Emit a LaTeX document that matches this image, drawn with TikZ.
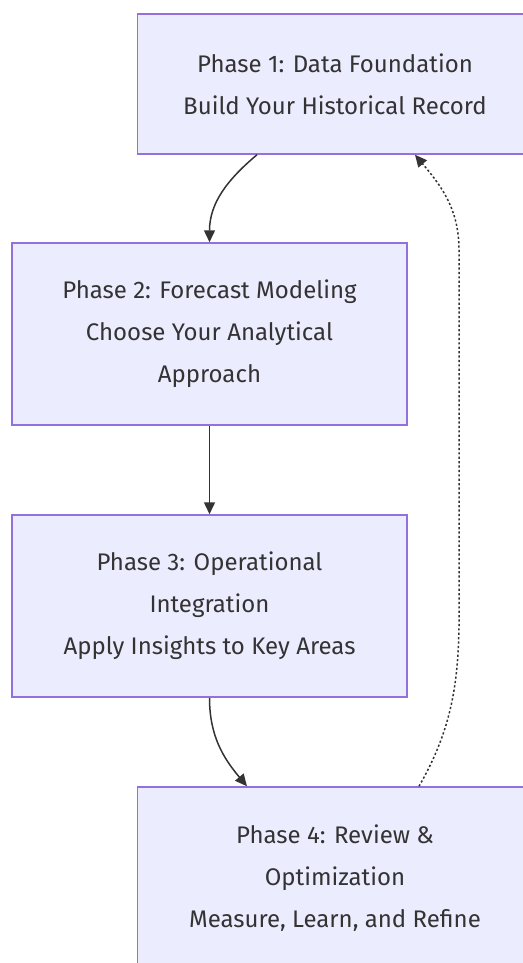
\documentclass[tikz,border=0pt]{standalone}
\usepackage{fontspec}
\setmainfont{Fira Sans}
\usetikzlibrary{arrows.meta,positioning}

\definecolor{boxfill}{HTML}{ECECFF}
\definecolor{boxline}{HTML}{9370DB}
\definecolor{ink}{HTML}{333333}

\begin{document}
\begin{tikzpicture}[
    x=1pt, y=1pt,
    phase/.style = {draw=boxline, line width=1.5pt, fill=boxfill,
                    minimum width=395pt, align=center, text=ink,
                    font=\fontsize{24}{42}\selectfont},
    flow/.style  = {draw=ink, line width=1.5pt,
                    -{Triangle[length=12pt,width=11pt]}},
    back/.style  = {flow, dash pattern=on 2.2pt off 2.2pt}
]
    \useasboundingbox (0,0) rectangle (522,-963);

    %-- Phase boxes ----------------------------------------------------------
    \node[phase, minimum height=140pt] (p1) at (335,-84)
        {Phase 1: Data Foundation\\Build Your Historical Record};
    \node[phase, minimum height=182pt] (p2) at (209.5,-334)
        {Phase 2: Forecast Modeling\\Choose Your Analytical\\Approach};
    \node[phase, minimum height=182pt] (p3) at (209.5,-606)
        {Phase 3: Operational\\Integration\\Apply Insights to Key Areas};
    \node[phase, minimum height=182pt] (p4) at (335,-878)
        {Phase 4: Review \&\\Optimization\\Measure, Learn, and Refine};

    %-- Forward flow ---------------------------------------------------------
    \draw[flow] ([xshift=-78pt]p1.south) to[out=220, in=90] (p2.north);
    \draw[flow] (p2.south) -- (p3.north);
    \draw[flow] (p3.south) to[out=-90, in=130] ([xshift=-88pt]p4.north);

    %-- Loop back (right side) -----------------------------------------------
    \coordinate (r1) at (459,-560);
    \coordinate (r2) at (459,-250);
    \draw[back] ([xshift=84pt]p4.north) to[out=60, in=-90] (r1)
        -- (r2) to[out=90, in=-50] ([xshift=80pt]p1.south);

\end{tikzpicture}
\end{document}
